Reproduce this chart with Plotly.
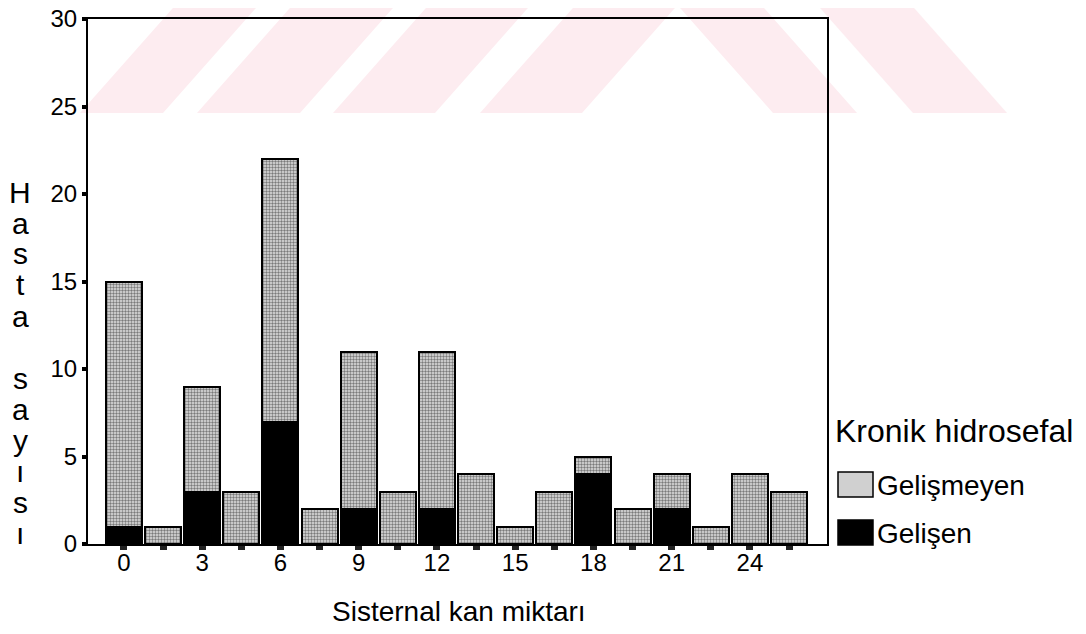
import plotly.graph_objects as go

# ---------------- data ----------------
x_labels = ["0", "", "3", "", "6", "", "9", "", "12", "", "15", "", "18", "", "21", "", "24", ""]
gelisen = [1, 0, 3, 0, 7, 0, 2, 0, 2, 0, 0, 0, 4, 0, 2, 0, 0, 0]
gelismeyen = [14, 1, 6, 3, 15, 2, 9, 3, 9, 4, 1, 3, 1, 2, 2, 1, 4, 3]
series_names = ["Gelişmeyen", "Gelişen"]
legend_title = "Kronik hidrosefal"
x_title = "Sisternal kan miktarı"
y_title = "Hasta sayısı"
y_ticks = [0, 5, 10, 15, 20, 25, 30]

positions = list(range(len(x_labels)))

# ---------------- geometry (screen pixels; page body has an 8px margin) ----------------
OFF = 8
W, H = 1086 - 2 * OFF, 634 - 2 * OFF
L, R, T, B = 88, 827, 19, 544          # plot area in screen pixels


def px(x):
    return (x - L) / (R - L)


def py(y):
    return (B - y) / (B - T)


FONT = "Liberation Sans, Arial, sans-serif"
GREY = "#d0d0d0"

fig = go.Figure()
fig.add_bar(
    x=positions, y=gelisen, name=series_names[1], width=0.92,
    marker=dict(color="black", line=dict(color="black", width=2)),
)
fig.add_bar(
    x=positions, y=gelismeyen, name=series_names[0], width=0.92,
    marker=dict(
        color=GREY,
        pattern=dict(shape=".", fgcolor="#7a7a7a", bgcolor="#e2e2e2", size=3, solidity=0.5),
        line=dict(color="black", width=2),
    ),
)

# ---------------- watermark (faint pink stripes at top) ----------------
pink = "rgb(253,236,240)"
y_top, y_bot = 0, 113
left_stripes = [(80, 163), (197, 300), (333, 435), (480, 582)]
right_stripes = [(773, 857), (913, 1007)]
shapes = []
for a, b in left_stripes:
    path = (f"M {px(a)},{py(y_bot)} L {px(b)},{py(y_bot)} "
            f"L {px(b + 100)},{py(y_top)} L {px(a + 100)},{py(y_top)} Z")
    shapes.append(dict(type="path", xref="paper", yref="paper", path=path,
                       fillcolor=pink, line=dict(width=0), layer="below"))
for a, b in right_stripes:
    path = (f"M {px(a)},{py(y_bot)} L {px(b)},{py(y_bot)} "
            f"L {px(b - 100)},{py(y_top)} L {px(a - 100)},{py(y_top)} Z")
    shapes.append(dict(type="path", xref="paper", yref="paper", path=path,
                       fillcolor=pink, line=dict(width=0), layer="below"))

# ---------------- custom legend ----------------
annotations = []
annotations.append(dict(text=legend_title, x=px(833), y=py(431), xref="paper", yref="paper",
                        xanchor="left", yanchor="middle", showarrow=False,
                        font=dict(family=FONT, size=32, color="black")))
legend_rows = [(series_names[0], 472, 497, GREY), (series_names[1], 520, 545, "black")]
for name, y0, y1, col in legend_rows:
    shapes.append(dict(type="rect", xref="paper", yref="paper",
                       x0=px(838), x1=px(873), y0=py(y1), y1=py(y0),
                       fillcolor=col, line=dict(color="black", width=1.5),
                       layer="above"))
    annotations.append(dict(text=name, x=px(875), y=py((y0 + y1) / 2 + 1), xref="paper", yref="paper",
                            xanchor="left", yanchor="middle", showarrow=False,
                            font=dict(family=FONT, size=28, color="black")))

# ---------------- axis titles ----------------
annotations.append(dict(text=x_title, x=px(459), y=py(611), xref="paper", yref="paper",
                        xanchor="center", yanchor="middle", showarrow=False,
                        font=dict(family=FONT, size=28, color="black")))
for i, ch in enumerate(y_title):
    if ch == " ":
        continue
    annotations.append(dict(text=ch, x=px(20), y=py(192 + 31 * i), xref="paper", yref="paper",
                            xanchor="center", yanchor="middle", showarrow=False,
                            font=dict(family=FONT, size=30, color="black")))

fig.update_layout(
    template="none",
    width=W, height=H, autosize=False,
    margin=dict(l=L - OFF, r=W - (R - OFF), t=T - OFF, b=H - (B - OFF), pad=0, autoexpand=False),
    barmode="stack",
    showlegend=False,
    paper_bgcolor="white",
    plot_bgcolor="rgba(0,0,0,0)",
    font=dict(family=FONT, color="black"),
    shapes=shapes,
    annotations=annotations,
    xaxis=dict(
        range=[-0.92, 17.97], tickmode="array", tickvals=positions, ticktext=x_labels,
        ticks="outside", ticklen=4, tickwidth=7, tickcolor="#222222",
        ticklabelstandoff=-8, ticklabeloverflow="allow",
        showline=True, linewidth=2, linecolor="black", mirror=True,
        showgrid=False, zeroline=False, automargin=False,
        tickfont=dict(family=FONT, size=24, color="black"),
    ),
    yaxis=dict(
        range=[0, 30], tickmode="array", tickvals=y_ticks,
        ticks="outside", ticklen=4, tickwidth=4, tickcolor="black",
        ticklabeloverflow="allow",
        showline=True, linewidth=2, linecolor="black", mirror=True,
        showgrid=False, zeroline=False, automargin=False,
        tickfont=dict(family=FONT, size=24, color="black"),
    ),
)

fig.write_html("out.html")
